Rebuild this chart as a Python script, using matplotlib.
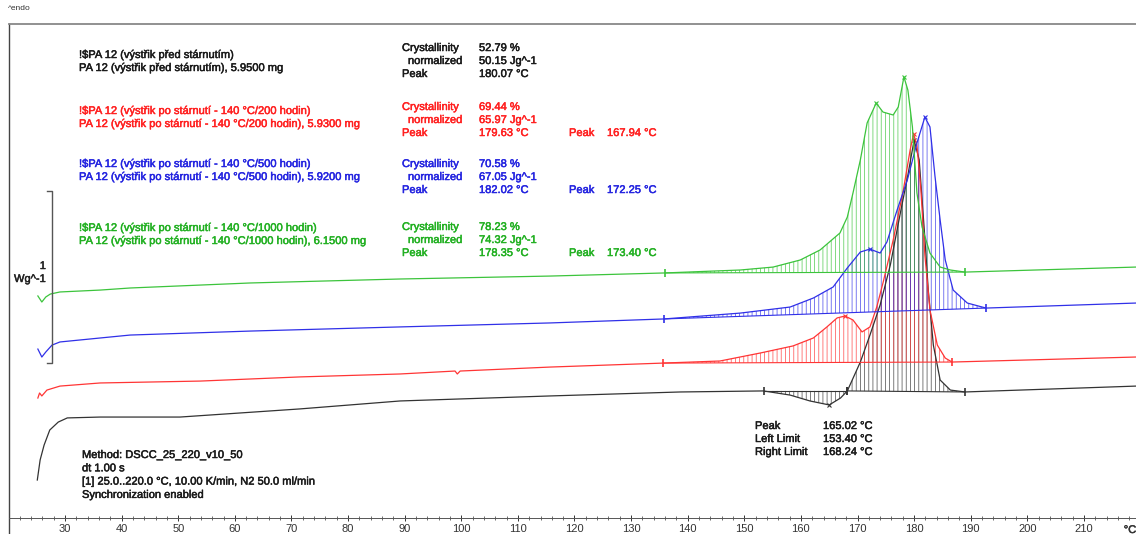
#!/usr/bin/env python3

import numpy as np
import matplotlib
matplotlib.use('Agg')
import matplotlib.pyplot as plt
import matplotlib.patheffects as pe

plt.rcParams['font.family'] = ['Liberation Sans', 'DejaVu Sans']
plt.rcParams['hatch.linewidth'] = 0.6

#------------------------------------------------------------
# DSC curves: temperature (degC) and heat flow (W/g, curves displaced)
#------------------------------------------------------------
green_T  = [25.2, 25.9, 26.6, 27.4, 29.1, 36.2, 41.5, 62.7, 89.2, 115.7, 136.0, 149.3, 155.1, 159.9,
            163.4, 166.9, 168.2, 169.2, 170.5, 171.7, 173.3, 174.5, 176.3, 177.2, 178.2, 178.9, 179.7,
            180.5, 181.4, 182.8, 184.6, 186.4, 189.0, 219.2]
green_hf = [1.376, 1.341, 1.370, 1.387, 1.399, 1.410, 1.422, 1.451, 1.474, 1.491, 1.509, 1.526, 1.543, 1.584,
            1.642, 1.740, 1.832, 1.971, 2.162, 2.376, 2.491, 2.439, 2.422, 2.468, 2.642, 2.566, 2.353,
            1.971, 1.775, 1.624, 1.543, 1.526, 1.514, 1.543]

blue_T  = [25.2, 25.9, 26.6, 27.7, 29.1, 36.2, 41.5, 62.7, 89.2, 115.7, 135.8, 149.3, 158.1, 162.2,
           165.7, 168.2, 170.5, 172.2, 174.0, 175.2, 177.0, 178.8, 180.5, 181.9, 182.8, 183.7, 184.6,
           185.5, 186.9, 189.4, 192.7, 219.2]
blue_hf = [1.069, 1.023, 1.052, 1.092, 1.110, 1.133, 1.150, 1.173, 1.197, 1.220, 1.243, 1.277, 1.312, 1.364,
           1.428, 1.538, 1.630, 1.647, 1.624, 1.688, 1.873, 2.046, 2.260, 2.410, 2.353, 2.064, 1.815,
           1.584, 1.410, 1.335, 1.306, 1.335]

red_T  = [25.2, 25.5, 25.9, 26.8, 29.1, 36.2, 53.9, 71.5, 89.2, 98.9, 99.3, 99.8, 115.7, 135.7, 145.7,
          152.8, 158.6, 162.2, 164.6, 166.4, 167.8, 169.2, 170.8, 172.2, 173.4, 174.5, 176.3, 178.1,
          179.3, 179.9, 180.5, 181.2, 181.9, 182.8, 184.1, 185.5, 186.7, 219.2]
red_hf = [0.786, 0.815, 0.798, 0.832, 0.855, 0.873, 0.884, 0.908, 0.925, 0.942, 0.925, 0.942, 0.965, 0.988, 1.000,
          1.046, 1.087, 1.133, 1.197, 1.249, 1.260, 1.237, 1.168, 1.197, 1.312, 1.451, 1.699, 1.988,
          2.220, 2.312, 2.249, 1.988, 1.613, 1.295, 1.092, 1.017, 0.994, 1.023]

black_T  = [25.1, 25.6, 26.3, 27.3, 28.8, 30.4, 36.2, 50.3, 71.5, 89.2, 115.7, 138.7, 153.4, 158.1,
            161.6, 165.0, 167.0, 168.2, 170.5, 172.2, 174.0, 175.8, 177.5, 178.9, 180.0, 180.9, 181.8,
            182.5, 183.4, 184.6, 186.4, 189.0, 219.2]
black_hf = [0.312, 0.428, 0.514, 0.601, 0.647, 0.671, 0.676, 0.676, 0.723, 0.769, 0.798, 0.821, 0.827, 0.803,
            0.769, 0.746, 0.786, 0.827, 0.994, 1.150, 1.324, 1.555, 1.844, 2.075, 2.277, 2.162, 1.757,
            1.410, 1.092, 0.890, 0.832, 0.821, 0.855]

# integration limits (degC) and marked peaks (degC)
green_limits = [(136.0, 189.0)]
blue_limits  = [(135.8, 192.7)]
red_limits   = [(135.7, 186.7)]
black_limits = [(153.4, 168.2), (168.2, 189.0)]
green_peaks = [173.3, 178.2]
blue_peaks  = [172.2, 181.9]
red_peaks   = [167.8, 179.9]
black_peaks = [165.0, 180.0]

#------------------------------------------------------------
# texts
#------------------------------------------------------------
sample_lines = [
    (r"!\$PA 12 (výstřik před stárnutím)", "PA 12 (výstřik před stárnutím), 5.9500 mg"),
    (r"!\$PA 12 (výstřik po stárnutí - 140 °C/200 hodin)", "PA 12 (výstřik po stárnutí - 140 °C/200 hodin), 5.9300 mg"),
    (r"!\$PA 12 (výstřik po stárnutí - 140 °C/500 hodin)", "PA 12 (výstřik po stárnutí - 140 °C/500 hodin), 5.9200 mg"),
    (r"!\$PA 12 (výstřik po stárnutí - 140 °C/1000 hodin)", "PA 12 (výstřik po stárnutí - 140 °C/1000 hodin), 6.1500 mg"),
]
crystallinity = ["52.79 %", "69.44 %", "70.58 %", "78.23 %"]
normalized    = ["50.15 Jg^-1", "65.97 Jg^-1", "67.05 Jg^-1", "74.32 Jg^-1"]
peak_main     = ["180.07 °C", "179.63 °C", "182.02 °C", "178.35 °C"]
peak_second   = [None, "167.94 °C", "172.25 °C", "173.40 °C"]
exo_labels = ["Peak", "Left Limit", "Right Limit"]
exo_values = ["165.02 °C", "153.40 °C", "168.24 °C"]
method_lines = ["Method: DSCC_25_220_v10_50", "dt 1.00 s",
                "[1] 25.0..220.0 °C, 10.00 K/min, N2 50.0 ml/min", "Synchronization enabled"]

text_colors  = ['#1a1a1a', '#ff2020', '#2424e0', '#22b022']
curve_colors = ['#333333', '#ff3535', '#3030e8', '#3cc43c']

W, H = 1136, 534

def put(x, y, s, c, ha='left'):
    # place a label at pixel position (x, y) from the top-left corner
    fig.text(x / W, 1 - y / H, s, ha=ha, va='center', fontsize=8, color=c,
             path_effects=[pe.withStroke(linewidth=0.35, foreground=c)])

#------------------------------------------------------------
fig = plt.figure(figsize=(W / 100, H / 100), dpi=100)
ax = fig.add_axes([9 / W, 0, 1 - 9 / W, 510 / H])
ax.set_xlim(20.1, 219.2)
ax.set_ylim(0, 510 / 173)

curves = [
    (black_T, black_hf, black_limits, black_peaks),
    (red_T, red_hf, red_limits, red_peaks),
    (blue_T, blue_hf, blue_limits, blue_peaks),
    (green_T, green_hf, green_limits, green_peaks),
]

for (T, hf, limits, peaks), col in zip(curves, curve_colors):
    T = np.array(T)
    hf = np.array(hf)
    for (tl, tr) in limits:
        vl = np.interp(tl, T, hf)
        vr = np.interp(tr, T, hf)
        m = (T >= tl - 1e-6) & (T <= tr + 1e-6)
        base = np.interp(T[m], [tl, tr], [vl, vr])
        ax.fill_between(T[m], hf[m], base, facecolor='none', edgecolor=col,
                        hatch='||||', linewidth=0, alpha=0.75)
        ax.plot([tl, tr], [vl, vr], color=col, lw=0.8)
        ax.plot([tl, tr], [vl, vr], linestyle='none', marker='|', markersize=6,
                markeredgewidth=1.2, color=col)
    ax.plot(T, hf, color=col, lw=0.9)
    ax.plot(peaks, np.interp(peaks, T, hf), linestyle='none', marker='x',
            markersize=3, markeredgewidth=0.8, color=col)

# scale bar 1 W/g
ax.plot([26.8, 27.7, 27.7, 26.8], [1.983, 1.983, 0.988, 0.988], color='#555555', lw=1)
put(46, 266, "1", '#222222', ha='right')
put(46, 279, "Wg^-1", '#222222', ha='right')

# axes styling
ax.spines['right'].set_visible(False)
ax.spines['top'].set_color('#888888')
ax.spines['top'].set_linewidth(1.3)
ax.spines['left'].set_color('#444444')
ax.spines['left'].set_linewidth(1.0)
ax.spines['bottom'].set_position(('data', 16 / 173))
ax.spines['bottom'].set_color('#555555')
ax.spines['bottom'].set_linewidth(0.7)
ax.set_xticks(np.arange(30, 211, 10))
ax.set_xticks(np.arange(22, 219, 2), minor=True)
ax.tick_params(axis='x', which='major', direction='inout', length=5, width=0.7,
               colors='#333333', labelsize=8, pad=2)
ax.tick_params(axis='x', which='minor', direction='inout', length=3, width=0.6, colors='#555555')
ax.set_yticks([])
put(1130, 530, "°C", '#333333', ha='center')
fig.text(8 / W, 1 - 8 / H, "^endo", ha='left', va='center', fontsize=6, color='#333333')

# sample annotations
name_y = [55, 111, 164, 228]
stat_y = [48, 107, 164, 227]
for i in range(4):
    c = text_colors[i]
    put(79, name_y[i], sample_lines[i][0], c)
    put(79, name_y[i] + 13, sample_lines[i][1], c)
    y0 = stat_y[i]
    put(402, y0, "Crystallinity", c)
    put(408, y0 + 13, "normalized", c)
    put(402, y0 + 26, "Peak", c)
    put(479, y0, crystallinity[i], c)
    put(479, y0 + 13, normalized[i], c)
    put(479, y0 + 26, peak_main[i], c)
    if peak_second[i]:
        put(569, y0 + 26, "Peak", c)
        put(607, y0 + 26, peak_second[i], c)

for k, (lab, val) in enumerate(zip(exo_labels, exo_values)):
    put(755, 426 + 13 * k, lab, '#1a1a1a')
    put(823, 426 + 13 * k, val, '#1a1a1a')

for k, line in enumerate(method_lines):
    put(82, 455 + 13.3 * k, line, '#1a1a1a')

plt.savefig("out.png", dpi=100)
